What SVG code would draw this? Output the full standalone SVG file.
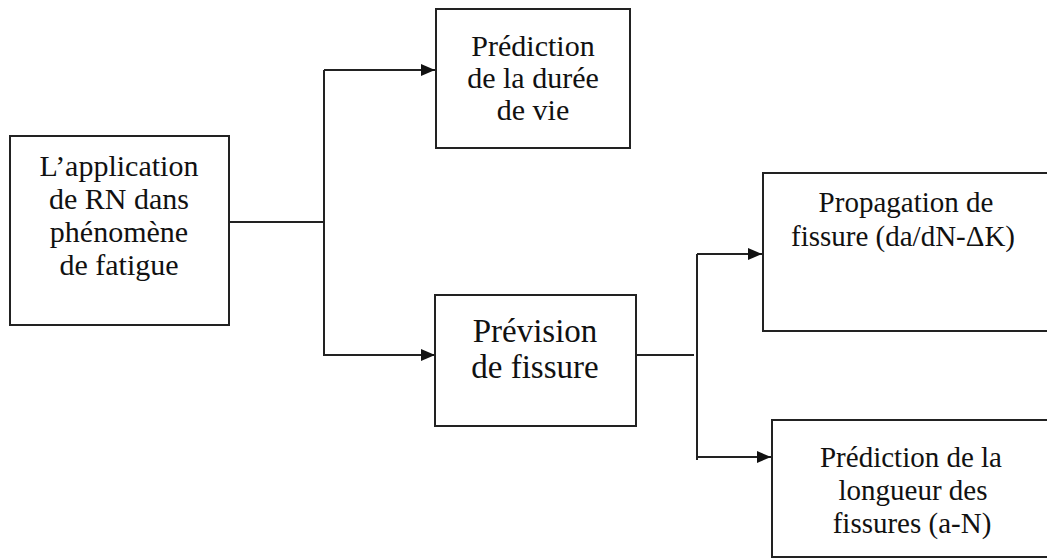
<svg xmlns="http://www.w3.org/2000/svg" width="1047" height="560" viewBox="0 0 1047 560">
<defs>
<style>
.box{fill:#fff;stroke:#222;stroke-width:2}
.t{font-family:"Liberation Serif","Times New Roman","DejaVu Serif",serif;font-size:29px;fill:#111;text-anchor:middle}
.t1{font-size:30px}
.t2{font-size:33px}
.c{fill:none;stroke:#222;stroke-width:2}
</style>
<marker id="ah" viewBox="0 0 14 12" refX="14" refY="6" markerWidth="14" markerHeight="12" markerUnits="userSpaceOnUse" orient="auto">
<path d="M0,0 L14,6 L0,12 Z" fill="#111"/>
</marker>
</defs>
<rect width="1047" height="560" fill="#fff"/>
<g id="connectors">
<path class="c" d="M229,222 H324"/>
<path class="c" d="M324,70 V356"/>
<path class="c" d="M324,70 H435" marker-end="url(#ah)"/>
<path class="c" d="M324,355 H435" marker-end="url(#ah)"/>
<path class="c" d="M636,355 H694"/>
<path class="c" d="M697,254 V460"/>
<path class="c" d="M697,254 H762" marker-end="url(#ah)"/>
<path class="c" d="M697,457 H771" marker-end="url(#ah)"/>
</g>
<g id="node-application">
<rect class="box" x="10" y="136" width="219" height="189"/>
<text class="t t1" x="119" y="176">L’application</text>
<text class="t t1" x="119" y="209">de RN dans</text>
<text class="t t1" x="119" y="242">phénomène</text>
<text class="t t1" x="119" y="275">de fatigue</text>
</g>
<g id="node-duree">
<rect class="box" x="436" y="9" width="194" height="139"/>
<text class="t t1" x="533" y="56">Prédiction</text>
<text class="t t1" x="533" y="88">de la durée</text>
<text class="t t1" x="533" y="120">de vie</text>
</g>
<g id="node-prevision">
<rect class="box" x="435" y="295" width="201" height="131"/>
<text class="t t2" x="535" y="342">Prévision</text>
<text class="t t2" x="535" y="378">de fissure</text>
</g>
<g id="node-propagation">
<rect class="box" x="763" y="173" width="290" height="158"/>
<text class="t" x="906" y="212">Propagation de</text>
<text class="t" x="903" y="246">fissure (da/dN-ΔK)</text>
</g>
<g id="node-longueur">
<rect class="box" x="772" y="420" width="280" height="137"/>
<text class="t" x="911" y="467">Prédiction de la</text>
<text class="t" x="913" y="500">longueur des</text>
<text class="t" x="912" y="533">fissures (a-N)</text>
</g>
</svg>
